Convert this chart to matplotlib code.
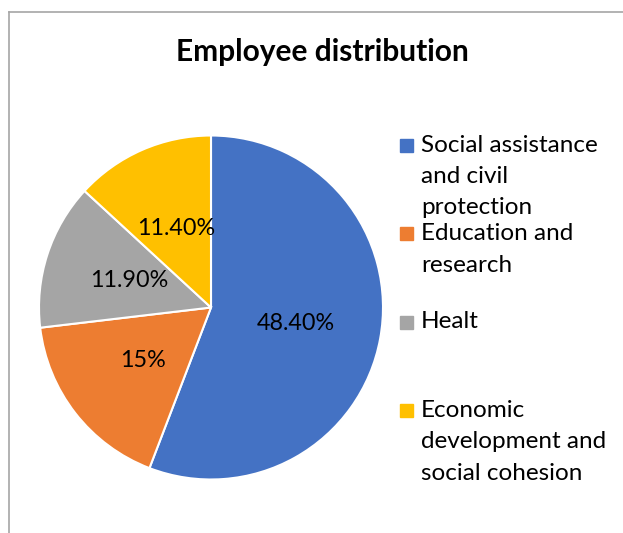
import matplotlib.pyplot as plt
from matplotlib.lines import Line2D
from matplotlib.patches import Rectangle

categories = [
    "Social assistance\nand civil\nprotection",
    "Education and\nresearch",
    "Healt",
    "Economic\ndevelopment and\nsocial cohesion",
]
shares = [48.4, 15.0, 11.9, 11.4]
pct_labels = ["48.40%", "15%", "11.90%", "11.40%"]
colors = ["#4472C4", "#ED7D31", "#A5A5A5", "#FFC000"]

plt.rcParams["font.family"] = ["Lato", "DejaVu Sans"]

W, H = 623, 533
fig = plt.figure(figsize=(W / 100, H / 100), dpi=100)

# pie placed in pixel terms: centre (211, 307.5), radius 172
cx, cy, r = 211, 307.5, 172
ax = fig.add_axes([(cx - r) / W, (H - cy - r) / H, 2 * r / W, 2 * r / H])
it = iter(pct_labels)
wedges, texts, autotexts = ax.pie(
    shares,
    colors=colors,
    startangle=90,
    counterclock=False,
    autopct=lambda p: next(it),
    pctdistance=0.5,
    wedgeprops=dict(edgecolor="white", linewidth=1.5),
    textprops=dict(fontsize=16.8, color="black"),
)
ax.set_xlim(-1, 1)
ax.set_ylim(-1, 1)

# overlay in pixel coords for frame, title and legend
ov = fig.add_axes([0, 0, 1, 1])
ov.set_xlim(0, W)
ov.set_ylim(H, 0)
ov.axis("off")
ov.patch.set_alpha(0)
ov.add_line(Line2D([8.5, 8.5], [11.5, H], color="#a6a6a6", lw=1.2))
ov.add_line(Line2D([8.5, W], [11.5, 11.5], color="#a6a6a6", lw=1.2))

ov.text(322, 52, "Employee distribution", ha="center", va="center",
        fontsize=21.5, fontweight="bold")

for i, (lab, col) in enumerate(zip(categories, colors)):
    y0 = 145 + 88.5 * i
    ov.add_patch(Rectangle((400, y0 - 6.5), 13, 13, color=col))
    for j, line in enumerate(lab.split("\n")):
        ov.text(421, y0 + 31.5 * j, line, ha="left", va="center",
                fontsize=17.5)

fig.savefig("out.png", dpi=100)
